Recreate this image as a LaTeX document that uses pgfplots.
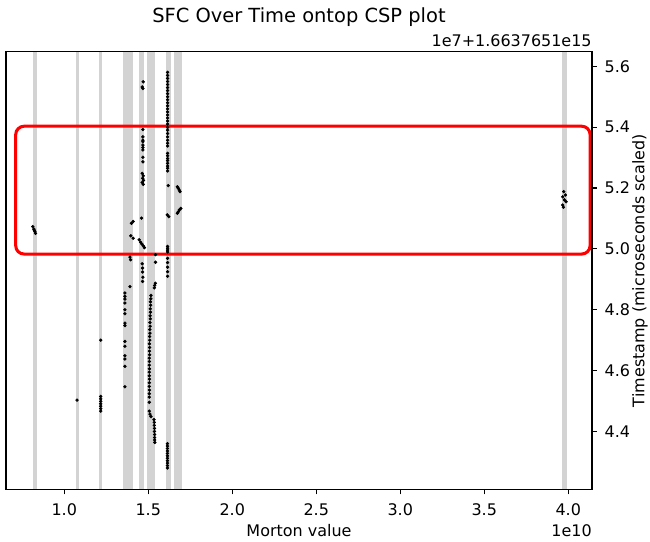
\documentclass[border=0pt]{standalone}
\usepackage{fontspec}
\setmainfont{DejaVu Sans}
\usepackage{pgfplots}
\pgfplotsset{compat=1.18}
\definecolor{bandgray}{RGB}{211,211,211}
\begin{document}
\begin{tikzpicture}
\begin{axis}[
  scale only axis, width=421.9pt, height=315.1pt,
  xmin=0.653, xmax=4.141, ymin=4.21, ymax=5.648,
  xtick={1,1.5,2,2.5,3,3.5,4},
  ytick={4.4,4.6,4.8,5.0,5.2,5.4,5.6},
  xtick pos=bottom, ytick pos=right, yticklabel pos=right,
  tick align=outside,
  major tick length=3.6pt,
  every tick/.style={black, line width=0.8pt},
  axis line style={line width=0.8pt},
  axis on top,
  scaled ticks=false,
  /pgf/number format/assume math mode=true,
  xticklabel style={/pgf/number format/fixed, /pgf/number format/fixed zerofill, /pgf/number format/precision=1, font=\fontsize{11.5}{13}\selectfont, yshift=-3pt},
  yticklabel style={/pgf/number format/fixed, /pgf/number format/fixed zerofill, /pgf/number format/precision=1, font=\fontsize{11.5}{13}\selectfont, xshift=2pt},
  xlabel={Morton value},
  xlabel style={at={(axis description cs:0.5,0)}, anchor=center, yshift=-29.5pt, font=\fontsize{11.5}{13}\selectfont},
]
% gray bands
\addplot[fill=bandgray, draw=none, forget plot] coordinates {(0.813,4) (0.840,4) (0.840,6) (0.813,6)} -- cycle;
\addplot[fill=bandgray, draw=none, forget plot] coordinates {(1.069,4) (1.085,4) (1.085,6) (1.069,6)} -- cycle;
\addplot[fill=bandgray, draw=none, forget plot] coordinates {(1.208,4) (1.223,4) (1.223,6) (1.208,6)} -- cycle;
\addplot[fill=bandgray, draw=none, forget plot] coordinates {(1.351,4) (1.411,4) (1.411,6) (1.351,6)} -- cycle;
\addplot[fill=bandgray, draw=none, forget plot] coordinates {(1.446,4) (1.474,4) (1.474,6) (1.446,6)} -- cycle;
\addplot[fill=bandgray, draw=none, forget plot] coordinates {(1.494,4) (1.538,4) (1.538,6) (1.494,6)} -- cycle;
\addplot[fill=bandgray, draw=none, forget plot] coordinates {(1.604,4) (1.637,4) (1.637,6) (1.604,6)} -- cycle;
\addplot[fill=bandgray, draw=none, forget plot] coordinates {(1.653,4) (1.701,4) (1.701,6) (1.653,6)} -- cycle;
\addplot[fill=bandgray, draw=none, forget plot] coordinates {(3.962,4) (3.990,4) (3.990,6) (3.962,6)} -- cycle;
% points
\addplot[only marks, mark=*, mark size=1.0pt, black, forget plot] coordinates {
(0.813,5.073) (0.819,5.065) (0.822,5.061) (0.825,5.057) (0.829,5.051)
(1.076,4.503)
(1.217,4.700) (1.217,4.515) (1.217,4.507) (1.217,4.499) (1.217,4.491) (1.217,4.483) (1.217,4.475) (1.217,4.467)
(1.410,5.090) (1.400,5.084) (1.396,5.043) (1.410,5.035) (1.391,4.973) (1.395,4.964) (1.391,4.876)
(1.361,4.855) (1.361,4.844) (1.361,4.835) (1.361,4.822) (1.361,4.800) (1.361,4.787) (1.361,4.756) (1.361,4.748)
(1.361,4.696) (1.361,4.680) (1.361,4.649) (1.361,4.638) (1.361,4.614) (1.361,4.547)
(1.470,5.549) (1.464,5.532) (1.468,5.527) (1.468,5.392) (1.468,5.368) (1.468,5.357) (1.468,5.352) (1.468,5.341)
(1.468,5.333) (1.468,5.325) (1.468,5.301) (1.468,5.286)
(1.464,5.248) (1.470,5.240) (1.467,5.232) (1.472,5.225) (1.464,5.218) (1.470,5.212)
(1.460,5.101)
(1.446,5.030) (1.454,5.022) (1.462,5.016) (1.470,5.010) (1.477,5.004)
(1.464,4.951) (1.466,4.937) (1.466,4.924) (1.468,4.907) (1.466,4.893)
(1.615,5.580) (1.615,5.570) (1.615,5.560) (1.615,5.550) (1.615,5.540) (1.615,5.530) (1.615,5.520) (1.615,5.510)
(1.615,5.500) (1.615,5.490) (1.615,5.480) (1.615,5.470) (1.615,5.460) (1.615,5.450) (1.615,5.440) (1.615,5.430)
(1.615,5.420) (1.615,5.410)
(1.615,5.399) (1.615,5.390) (1.615,5.379) (1.615,5.368) (1.615,5.357) (1.615,5.347) (1.615,5.338) (1.615,5.314)
(1.615,5.306) (1.615,5.297) (1.615,5.290) (1.615,5.281) (1.615,5.272) (1.615,5.265) (1.615,5.256)
(1.619,5.208) (1.613,5.112) (1.622,5.106)
(1.615,5.008) (1.615,5.002) (1.615,4.996) (1.615,4.990)
(1.615,4.969) (1.615,4.955) (1.615,4.940) (1.615,4.925) (1.615,4.910)
(1.614,4.360) (1.614,4.352) (1.614,4.344) (1.614,4.336) (1.614,4.328) (1.614,4.320) (1.614,4.312) (1.614,4.304)
(1.614,4.296) (1.614,4.288) (1.614,4.280)
(1.673,5.204) (1.679,5.199) (1.685,5.193) (1.689,5.188) (1.694,5.133) (1.685,5.128) (1.679,5.122) (1.673,5.117)
(1.543,4.981) (1.543,4.956) (1.542,4.887) (1.538,4.880) (1.536,4.872)
(1.516,4.847) (1.515,4.836) (1.513,4.826) (1.514,4.815) (1.512,4.803) (1.513,4.792) (1.511,4.780) (1.512,4.770)
(1.510,4.758) (1.511,4.746) (1.509,4.735) (1.510,4.723) (1.508,4.712) (1.509,4.700) (1.507,4.688) (1.508,4.676)
(1.507,4.664) (1.508,4.652) (1.506,4.641) (1.507,4.630) (1.506,4.618) (1.507,4.606) (1.506,4.595) (1.506,4.583)
(1.507,4.572) (1.506,4.560) (1.506,4.548) (1.507,4.536) (1.506,4.524) (1.506,4.513)
(1.506,4.496) (1.506,4.467) (1.510,4.457) (1.516,4.449)
(1.534,4.439) (1.536,4.430) (1.536,4.420) (1.537,4.410) (1.537,4.400) (1.538,4.390) (1.538,4.380) (1.538,4.372) (1.539,4.364)
(3.973,5.188) (3.983,5.177) (3.967,5.171) (3.977,5.161) (3.987,5.155) (3.967,5.144) (3.971,5.137)
};
% red rounded rectangle
\addplot[red, line width=2.2pt, rounded corners=6pt, forget plot] coordinates {(0.711,4.983) (4.130,4.983) (4.130,5.403) (0.711,5.403)} -- cycle;
\end{axis}
\node[font=\fontsize{14}{16}\selectfont] at ([yshift=25pt]current axis.north) {SFC Over Time ontop CSP plot};
\node[anchor=east, inner sep=0pt, font=\fontsize{11.5}{13}\selectfont] at ([yshift=7.9pt]current axis.north east) {1e7+1.6637651e15};
\node[anchor=east, inner sep=0pt, font=\fontsize{11.5}{13}\selectfont] at ([yshift=-29.5pt]current axis.south east) {1e10};
\node[rotate=90, anchor=center, inner sep=0pt, font=\fontsize{11.5}{13}\selectfont] at ([xshift=34.6pt]current axis.east) {Timestamp (microseconds scaled)};
\pgfresetboundingbox
\path ([shift={(-4.3pt,-37.9pt)}]current axis.south west) rectangle ([shift={(41.8pt,37.2pt)}]current axis.north east);
\end{tikzpicture}
\end{document}
